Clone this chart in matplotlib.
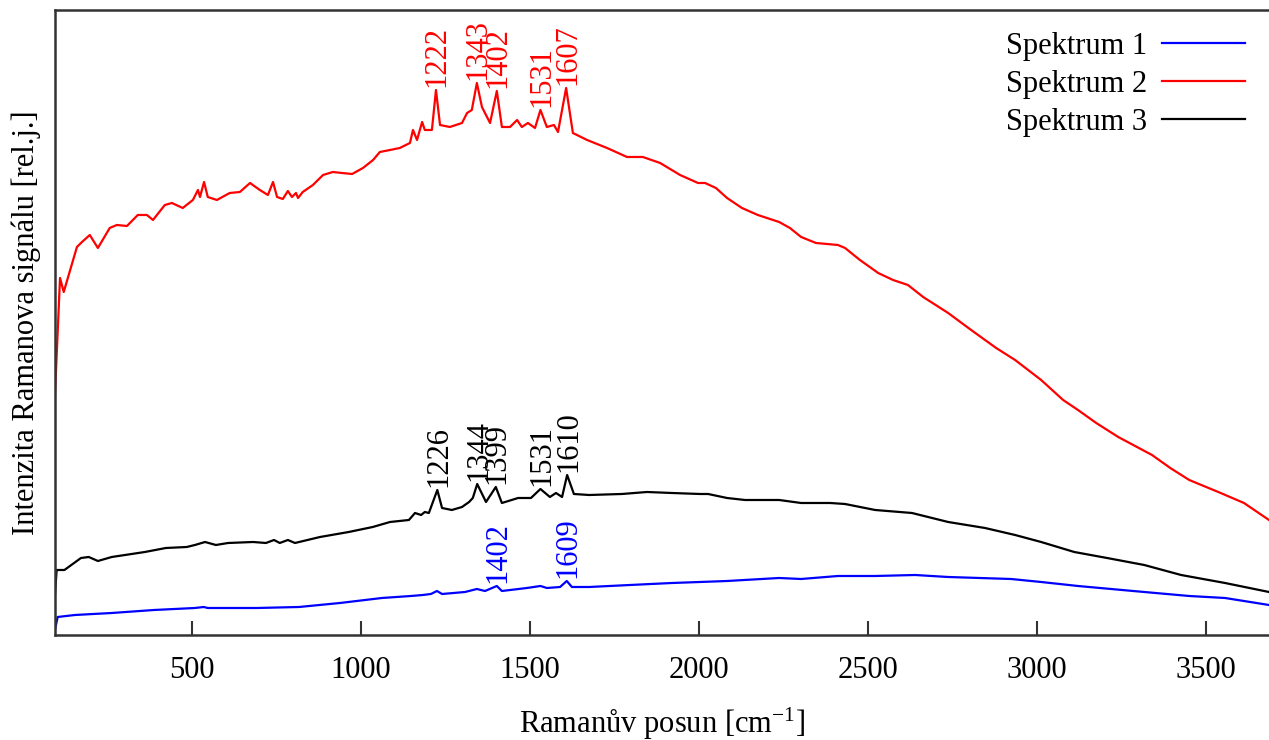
import numpy as np
import matplotlib.pyplot as plt

plt.rcParams['font.family'] = ['Liberation Serif', 'DejaVu Serif']
plt.rcParams['mathtext.fontset'] = 'custom'
plt.rcParams['mathtext.rm'] = 'Liberation Serif'
plt.rcParams['mathtext.it'] = 'Liberation Serif'

# Spektrum 1 (blue)
wn_1 = [95, 103, 154, 263, 388, 509, 535, 547, 692, 817, 938, 1062, 1148, 1183,
        1207, 1225, 1240, 1308, 1343, 1367, 1402, 1417, 1491, 1531, 1550, 1589,
        1609, 1624, 1675, 1796, 1920, 2003, 2083, 2237, 2302, 2411, 2521, 2639,
        2737, 2923, 3012, 3121, 3284, 3450, 3556, 3686]
int_1 = [5, 18, 20, 22, 25, 27, 28, 27, 27, 28, 32, 37, 39, 40, 41, 44, 41, 43,
         46, 44, 49, 44, 47, 49, 47, 48, 54, 48, 48, 50, 52, 53, 54, 57, 56, 59,
         59, 60, 58, 56, 53, 49, 44, 39, 37, 30]

# Spektrum 2 (red)
wn_2 = [95, 110, 121, 160, 175, 198, 222, 257, 278, 308, 340, 367, 385, 420, 441,
        473, 503, 518, 524, 536, 547, 574, 612, 642, 672, 701, 725, 740, 752, 769,
        784, 796, 808, 814, 828, 858, 888, 917, 944, 974, 1006, 1036, 1056, 1086,
        1115, 1145, 1154, 1166, 1181, 1189, 1210, 1222, 1234, 1263, 1299, 1314,
        1328, 1343, 1358, 1382, 1402, 1417, 1441, 1462, 1476, 1494, 1515, 1531,
        1550, 1571, 1583, 1607, 1627, 1669, 1728, 1787, 1834, 1885, 1944, 1997,
        2018, 2050, 2083, 2127, 2174, 2237, 2269, 2302, 2346, 2411, 2432, 2476,
        2530, 2574, 2618, 2663, 2737, 2805, 2879, 2935, 3012, 3077, 3121, 3175,
        3240, 3340, 3394, 3450, 3536, 3612, 3686]
int_2 = [240, 357, 343, 388, 393, 400, 387, 407, 410, 409, 420, 420, 415, 430, 432,
         427, 435, 445, 438, 453, 438, 435, 442, 443, 452, 445, 440, 453, 438, 436,
         444, 438, 442, 437, 443, 450, 460, 463, 462, 461, 467, 475, 483, 485,
         487, 492, 505, 495, 513, 505, 505, 545, 510, 508, 512, 522,
         525, 552, 528, 512, 544, 508, 508, 515, 508, 512, 507, 525,
         508, 510, 503, 547, 502, 495, 487, 478, 478, 472, 460, 452,
         452, 447, 437, 427, 420, 413, 407, 398, 392, 390, 387, 375,
         362, 355, 350, 338, 322, 305, 287, 275, 255, 235, 225, 212,
         198, 180, 167, 155, 143, 132, 115]

# Spektrum 3 (black)
wn_3 = [95, 100, 123, 172, 195, 222, 263, 361, 423, 485, 509, 539, 571, 607, 681,
        719, 743, 760, 784, 805, 879, 964, 1035, 1086, 1142, 1160, 1178, 1189,
        1201, 1226, 1240, 1269, 1299, 1320, 1331, 1344, 1370, 1399, 1417, 1465,
        1503, 1531, 1559, 1577, 1595, 1610, 1630, 1675, 1772, 1846, 1920, 2003,
        2027, 2083, 2136, 2237, 2302, 2388, 2432, 2521, 2630, 2737, 2846, 2935,
        3012, 3110, 3207, 3317, 3426, 3556, 3686]
int_3 = [40, 65, 65, 77, 78, 74, 78, 83, 87, 88, 90, 93, 90, 92, 93, 92, 95, 92,
         95, 92, 98, 103, 108, 113, 115, 122, 120, 123, 122, 145, 127, 125, 128,
         133, 137, 151, 133, 148, 132, 137, 137, 146, 138, 142, 138, 160, 141,
         140, 141, 143, 142, 141, 141, 137, 135, 135, 132, 132, 131, 125, 122,
         113, 107, 100, 93, 83, 77, 70, 60, 52, 43]

peaks_1 = [1402, 1609]
peaks_2 = [1222, 1343, 1402, 1531, 1607]
peaks_3 = [1226, 1344, 1399, 1531, 1610]

fig = plt.figure(figsize=(12.69, 7.40), dpi=100)
ax = fig.add_axes([0.0433, 0.1419, 0.9567, 0.8446])

series = [
    (wn_1, int_1, peaks_1, '#0000ff', 'Spektrum 1'),
    (wn_2, int_2, peaks_2, '#ff0000', 'Spektrum 2'),
    (wn_3, int_3, peaks_3, '#000000', 'Spektrum 3'),
]
for wn, inten, peaks, col, lab in series:
    ax.plot(wn, inten, color=col, lw=1.6, label=lab)
    for p in peaks:
        ax.annotate(str(p), xy=(p, np.interp(p, wn, inten)), xytext=(1, 2),
                    textcoords='offset points', rotation=90, ha='center',
                    va='bottom', color=col, fontsize=22)

ax.set_xlim(95, 3686)
ax.set_ylim(0, 625)
ax.set_xticks([500, 1000, 1500, 2000, 2500, 3000, 3500])
ax.set_yticks([])
ax.tick_params(axis='x', direction='in', length=10, width=1.5, labelsize=22,
               pad=15, color='#333333')
for s in ['left', 'bottom', 'top']:
    ax.spines[s].set_linewidth(1.8)
    ax.spines[s].set_color('#333333')
ax.spines['right'].set_visible(False)

ax.set_xlabel(r'Ramanův posun [cm$^{-1}$]', fontsize=22, labelpad=15)
ax.set_ylabel('Intenzita Ramanova signálu [rel.j.]', fontsize=22, labelpad=10)

ax.legend(loc='upper right', bbox_to_anchor=(0.99, 0.985), frameon=False,
          fontsize=22, markerfirst=False, handlelength=2.7, handletextpad=0.5,
          labelspacing=0.3, borderaxespad=0)

fig.savefig('out.png', dpi=100)
